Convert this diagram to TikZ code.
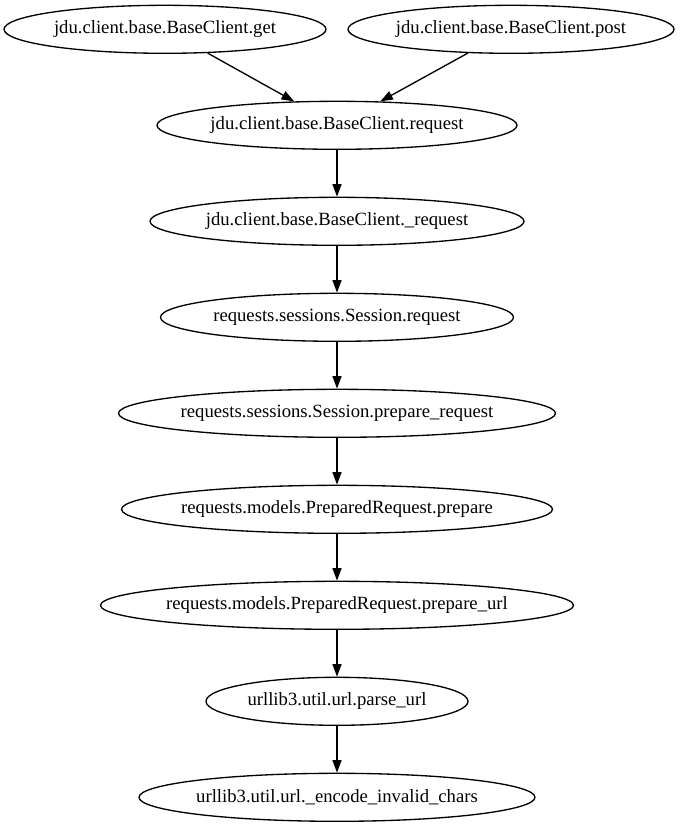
\documentclass[tikz,border=0pt]{standalone}
\usepackage{fontspec}
\setmainfont{Liberation Serif}
\usetikzlibrary{shapes.geometric,arrows.meta}
\tikzset{
    every path/.style={line width=1.33pt},
    fn/.style={ellipse, draw, inner ysep=0pt, inner xsep=-12pt, minimum height=48pt,
        font=\fontsize{18.67}{22}\selectfont},
    call/.style={-{Triangle[length=12.5pt,width=9pt]}}
}
\begin{document}
\begin{tikzpicture}[x=1pt,y=-1pt]
\useasboundingbox (0,0) rectangle (680,827);

\node[fn,minimum width=322pt] at (165,29.3) (get) {jdu.client.base.BaseClient.get};
\node[fn,minimum width=326pt] at (511,29.3) (post) {jdu.client.base.BaseClient.post};
\node[fn,minimum width=360pt] at (337,125.3) (req) {jdu.client.base.BaseClient.request};
\draw[call] (get) -- (req);
\draw[call] (post) -- (req);

\node[fn,minimum width=374pt] at (337,221.3) (ureq) {jdu.client.base.BaseClient.\_request};
\draw[call] (req) -- (ureq);

\node[fn,minimum width=353pt] at (337,317.3) (sreq) {requests.sessions.Session.request};
\draw[call] (ureq) -- (sreq);

\node[fn,minimum width=437pt] at (337,413.3) (sprep) {requests.sessions.Session.prepare\_request};
\draw[call] (sreq) -- (sprep);

\node[fn,minimum width=431pt] at (337,509.3) (prep) {requests.models.PreparedRequest.prepare};
\draw[call] (sprep) -- (prep);

\node[fn,minimum width=473pt] at (337,605.3) (prepurl) {requests.models.PreparedRequest.prepare\_url};
\draw[call] (prep) -- (prepurl);

\node[fn,minimum width=262pt] at (337,701.3) (parse) {urllib3.util.url.parse\_url};
\draw[call] (prepurl) -- (parse);

\node[fn,minimum width=396pt] at (337,797.3) (enc) {urllib3.util.url.\_encode\_invalid\_chars};
\draw[call] (parse) -- (enc);
\end{tikzpicture}
\end{document}
